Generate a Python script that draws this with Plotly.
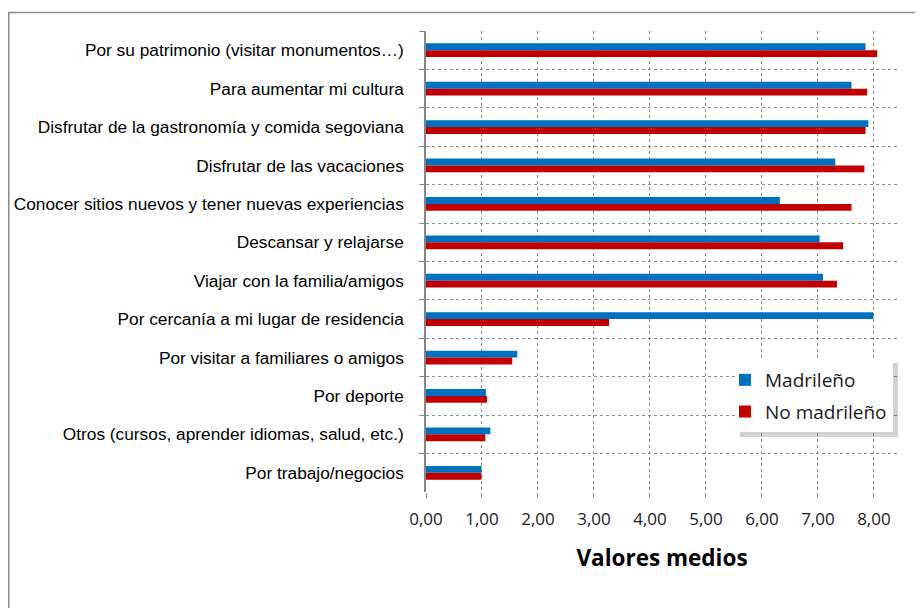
import plotly.graph_objects as go

categories = [
    "Por su patrimonio (visitar monumentos…)",
    "Para aumentar mi cultura",
    "Disfrutar de la gastronomía y comida segoviana",
    "Disfrutar de las vacaciones",
    "Conocer sitios nuevos y tener nuevas experiencias",
    "Descansar y relajarse",
    "Viajar con la familia/amigos",
    "Por cercanía a mi lugar de residencia",
    "Por visitar a familiares o amigos",
    "Por deporte",
    "Otros (cursos, aprender idiomas, salud, etc.)",
    "Por trabajo/negocios",
]
madrileno = [7.85, 7.60, 7.90, 7.31, 6.32, 7.03, 7.09, 7.99, 1.63, 1.07, 1.15, 0.99]
no_madrileno = [8.06, 7.88, 7.85, 7.83, 7.60, 7.45, 7.34, 3.27, 1.54, 1.09, 1.06, 0.99]
x_ticks = [0, 1, 2, 3, 4, 5, 6, 7, 8]

W, H = 923, 608
D = 8  # page body offset
L, R, T, B = 426 - D, 923 - (898 - D), 31 - D, 608 - (492 - D)
pw, ph = W - L - R, H - T - B

def px_x(p):
    return (p - D - L) / pw

def px_y(p):
    return (H - B - (p - D)) / ph

fig = go.Figure()
fig.add_trace(go.Bar(y=categories, x=madrileno, orientation="h", name="Madrileño",
                     legendgroup="a", marker=dict(color="#0070C0", line=dict(width=0))))
fig.add_trace(go.Bar(y=categories, x=no_madrileno, orientation="h", name="No madrileño",
                     legendgroup="b", marker=dict(color="#C00000", line=dict(width=0))))

grid = "#8c8c8c"
fig.update_layout(
    width=W, height=H,
    margin=dict(l=L, r=R, t=T, b=B, pad=0, autoexpand=False),
    paper_bgcolor="white", plot_bgcolor="white",
    barmode="group", bargap=0.64, bargroupgap=0,
    separators=",.",
    showlegend=True,
    legend=dict(
        x=px_x(725), y=px_y(361), xanchor="left", yanchor="top",
        bgcolor="rgba(0,0,0,0)", borderwidth=0,
        font=dict(family="Open Sans", size=19, color="#1a1a1a"),
        tracegroupgap=4, itemwidth=30,
        traceorder="grouped",
    ),
    xaxis=dict(
        range=[0, 8.43], tickvals=x_ticks, tickformat=".2f",
        showgrid=True, gridcolor=grid, griddash="dot", gridwidth=1,
        zeroline=False, showline=False, automargin=False,
        ticks="outside", ticklen=5, tickcolor=grid,
        ticklabelstandoff=7,
        tickfont=dict(family="Open Sans", size=17, color="#1a1a1a"),
        title=dict(text="<b>Valores medios</b>", standoff=20,
                   font=dict(family="Open Sans", size=22.5, color="#000000")),
    ),
    yaxis=dict(
        type="category", autorange="reversed", tickson="boundaries",
        showgrid=True, gridcolor=grid, griddash="dot", gridwidth=1,
        showline=True, linecolor="#868686", linewidth=1.5, automargin=False,
        ticks="outside", ticklen=5, tickcolor="#868686",
        ticklabelstandoff=17,
        tickfont=dict(family="Liberation Sans, Arial", size=17.3, color="#000000"),
    ),
)

# outer chart border
fig.add_shape(type="rect", xref="paper", yref="paper",
              x0=px_x(8.75), x1=px_x(960), y0=px_y(650), y1=px_y(12.5),
              line=dict(color="#8a8a8a", width=1.5), fillcolor="rgba(0,0,0,0)", layer="below")
# legend shadow and box
fig.add_shape(type="rect", xref="paper", yref="paper",
              x0=px_x(740), x1=px_x(898), y0=px_y(437), y1=px_y(363),
              line=dict(width=0), fillcolor="rgba(0,0,0,0.18)", layer="above")
fig.add_shape(type="rect", xref="paper", yref="paper",
              x0=px_x(737), x1=px_x(893), y0=px_y(432), y1=px_y(360),
              line=dict(width=0), fillcolor="white", layer="above")

fig.write_html("out.html")
